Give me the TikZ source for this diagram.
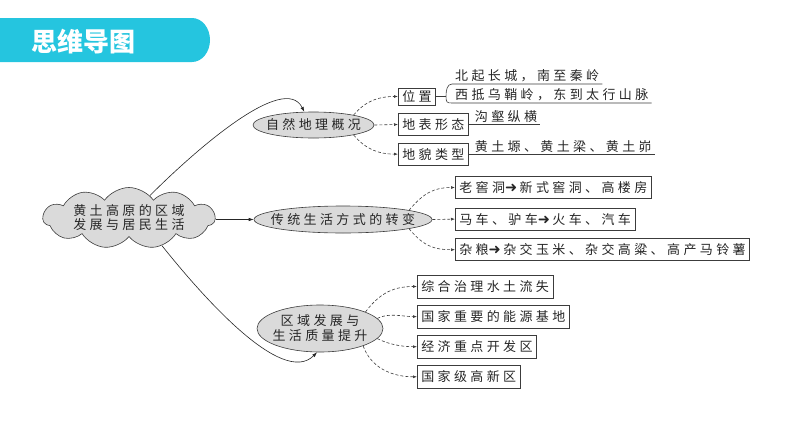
\documentclass[tikz,border=0pt]{standalone}
\usepackage{fontspec}
\usepackage{tikz}
\usetikzlibrary{arrows.meta, positioning, shapes.geometric, shapes.symbols}
\newfontfamily\zh[LetterSpace=26]{Noto Sans CJK SC}
\newfontfamily\zhhead{Noto Sans CJK SC}
\newfontfamily\dingfont{DejaVu Sans}
\definecolor{headblue}{HTML}{25C5DF}
\definecolor{ink}{HTML}{262626}
\definecolor{rulegray}{HTML}{3C3C3C}
\definecolor{ovalfill}{HTML}{DADADA}
\newcommand{\becomes}{{\dingfont\fontsize{14.5}{15}\selectfont ➜}\hspace{2.5pt}}
\tikzset{
  head/.style={text=white, inner sep=0pt, font=\zhhead\bfseries\fontsize{26}{30}\selectfont},
  hub/.style={cloud, cloud puffs=11, cloud puff arc=110, cloud ignores aspect,
              draw=rulegray, fill=ovalfill, line width=0.6pt, inner sep=-6pt,
              minimum width=172pt, minimum height=61pt, align=center, text=ink,
              font=\zh\fontsize{13}{14}\selectfont},
  topic/.style={ellipse, draw=rulegray, fill=ovalfill, line width=0.6pt,
                inner xsep=-30pt, inner ysep=-4pt, align=center, text=ink,
                font=\zh\fontsize{13}{15}\selectfont},
  item/.style={draw=rulegray, fill=white, line width=0.6pt, inner xsep=4pt, inner ysep=0pt,
               minimum height=22pt, anchor=west, text=ink, font=\zh\fontsize{13}{15}\selectfont},
  note/.style={inner xsep=3pt, inner ysep=1.5pt, anchor=south west, text=ink,
               font=\zh\fontsize{13}{15}\selectfont},
  trunk/.style={draw=ink, line width=0.6pt, -{Latex[length=5pt, width=3.5pt]}},
  twig/.style={draw=rulegray, line width=0.6pt, dash pattern=on 3pt off 2pt,
               -{Latex[length=4pt, width=3pt]}},
  ulline/.style={draw=rulegray, line width=0.6pt},
}

\begin{document}
\begin{tikzpicture}[x=1pt, y=-1pt]
\useasboundingbox (0,0) rectangle (794,447);
% title bar
\fill[headblue] (0,18) -- (192,18) arc[start angle=90, end angle=-90, x radius=18pt, y radius=22pt] -- (0,62) -- cycle;
\node[head] (title) at (83,42) {思维导图};

\node[hub] (root) at (129,218) {黄土高原的区域\\发展与居民生活};
\node[topic, minimum width=121pt, minimum height=26pt] (nature) at (313.5,125) {自然地理概况};
\node[topic, minimum width=178pt, minimum height=27pt] (life) at (343,219.5) {传统生活方式的转变};
\node[topic, minimum width=126pt, minimum height=47pt] (grow) at (320,328.5) {区域发展与\\生活质量提升};

% natural geography
\node[item, minimum height=17pt] (place) at (398,96.5) {位置};
\node[item] (surface) at (398,124.5) {地表形态};
\node[item, below=7pt of surface.south west, anchor=north west] (landform) {地貌类型};
\coordinate (fork) at (446,96.5);
\node[note] (north) at (452,84) {北起长城，南至秦岭};
\node[note] (west) at (452,103) {西抵乌鞘岭，东到太行山脉};
\node[note, right=3pt of surface.east, anchor=south west] (gully) {沟壑纵横};
\node[note, right=3pt of landform.east, anchor=south west] (loess) {黄土塬、黄土梁、黄土峁};

% way of life
\node[item] (cave) at (455,187.5) {老窖洞\becomes 新式窖洞、高楼房};
\node[item, below=9pt of cave.south west, anchor=north west] (cart) {马车、驴车\becomes 火车、汽车};
\node[item, below=8pt of cart.south west, anchor=north west] (grain) {杂粮\becomes 杂交玉米、杂交高粱、高产马铃薯};

% development
\node[item, minimum height=23pt] (soil) at (417,286.5) {综合治理水土流失};
\node[item, minimum height=23pt, below=6.5pt of soil.south west, anchor=north west] (energy) {国家重要的能源基地};
\node[item, minimum height=23pt, below=6.5pt of energy.south west, anchor=north west] (zone) {经济重点开发区};
\node[item, minimum height=23pt, below=6.5pt of zone.south west, anchor=north west] (hitech) {国家级高新区};

\draw[trunk] (root.47) .. controls +(45,-45) and +(-20,-40) .. (nature.125);
\draw[trunk] (root.east |- life.west) -- (life.west);
\draw[trunk] (root.-40) .. controls +(40,50) and +(-35,35) .. (grow.-97);

\draw[twig] (nature.14) .. controls +(12,-14) and +(-20,0) .. (place.west);
\draw[twig] (nature.east) -- (surface.west);
\draw[twig] (nature.-14) .. controls +(12,14) and +(-20,0) .. (landform.west);

\draw[twig] (life.8) .. controls +(15,-18) and +(-20,0) .. (cave.west);
\draw[twig] (life.east) -- (cart.west);
\draw[twig] (life.-8) .. controls +(15,18) and +(-20,0) .. (grain.west);

\draw[twig] (grow.20) .. controls +(15,-20) and +(-22,0) .. (soil.west);
\draw[twig] (grow.10) .. controls +(12,-6) and +(-15,0) .. (energy.west);
\draw[twig] (grow.-10) .. controls +(12,6) and +(-15,0) .. (zone.west);
\draw[twig] (grow.-22) .. controls +(8,22) and +(-25,0) .. (hitech.west);

% brace and underlines
\draw[ulline] (place.east) -- (fork);
\draw[ulline] (north.south east) -- (north.south west) .. controls +(-5,0) and +(0,-6) .. (fork)
  .. controls +(0,6) and +(-5,0) .. (west.south west) -- (west.south east);
\draw[ulline] (surface.east) -- (gully.south east);
\draw[ulline] (landform.east) -- (loess.south east);
\end{tikzpicture}
\end{document}
